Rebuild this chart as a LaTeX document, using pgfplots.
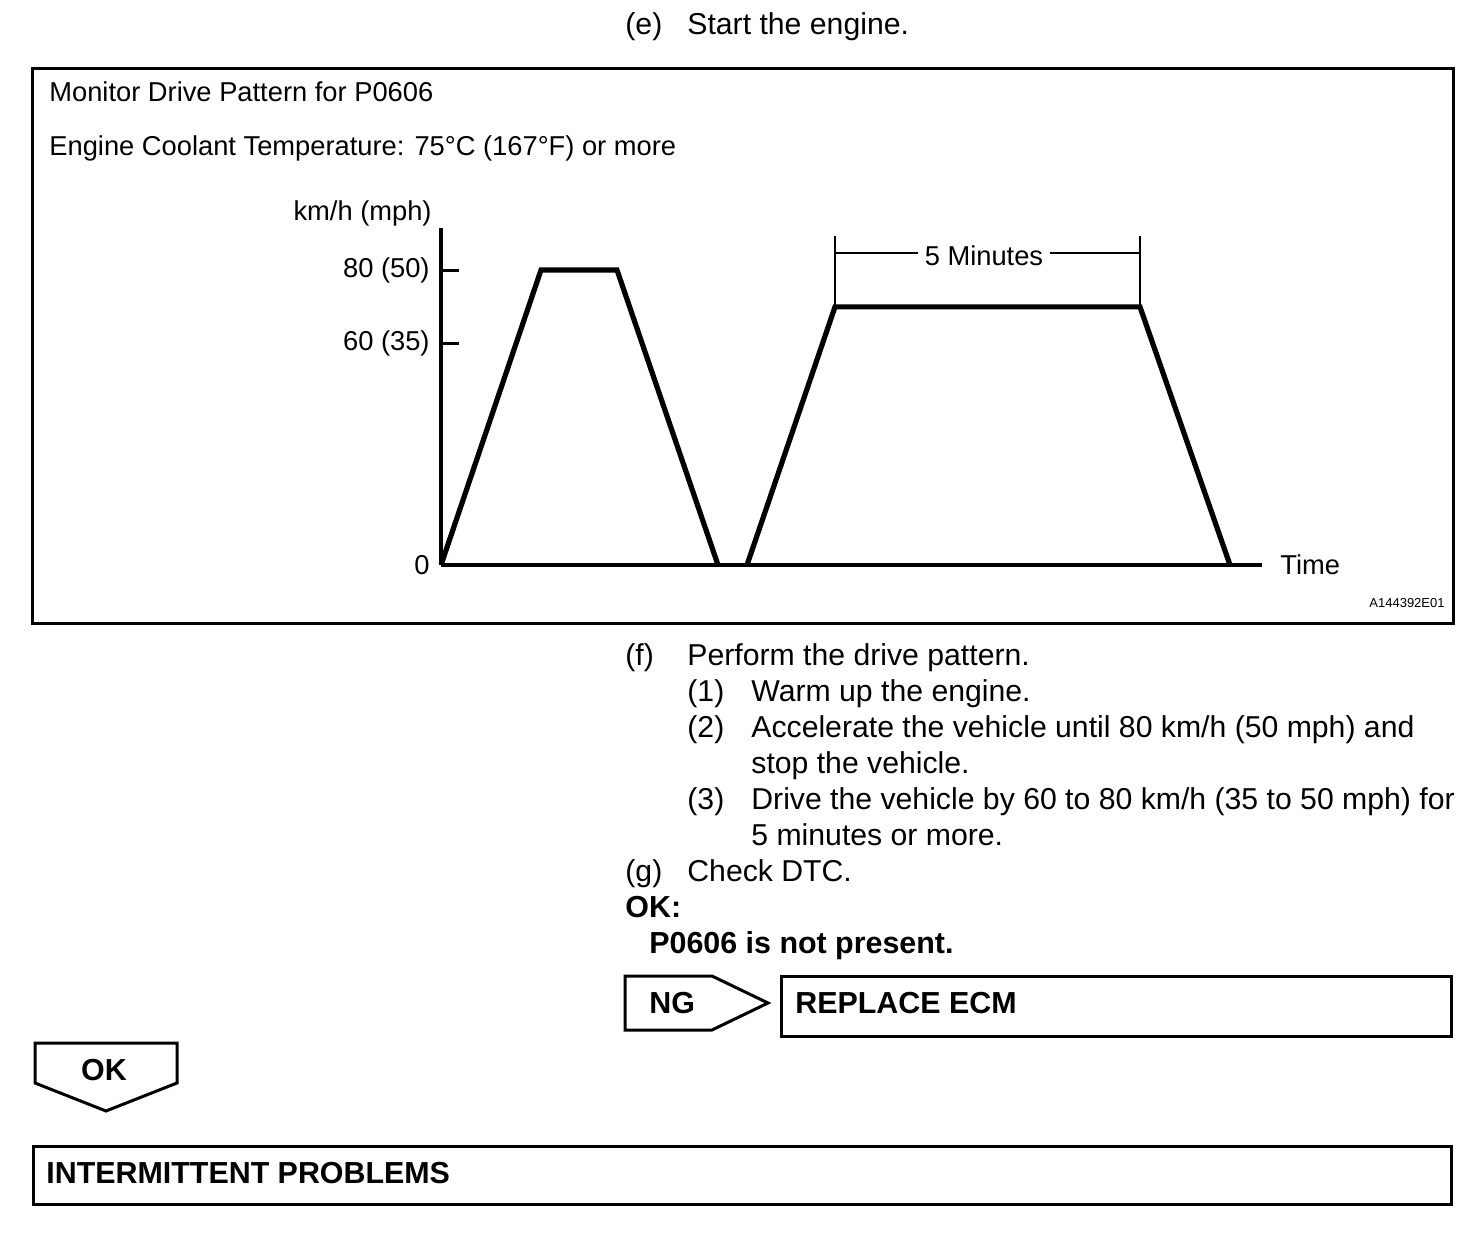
\documentclass[border=0pt]{standalone}
\usepackage{pgfplots}
\pgfplotsset{compat=1.18}
\usepackage{fontspec}
\setmainfont{Liberation Sans}
\begin{document}
\begin{tikzpicture}[x=0.5pt,y=-0.5pt,
  t/.style={anchor=base west, inner sep=0pt, font=\fontsize{15.1}{18}\selectfont},
  b/.style={anchor=base west, inner sep=0pt, font=\fontsize{15.2}{18}\selectfont\bfseries},
  d/.style={anchor=base west, inner sep=0pt, font=\fontsize{13.65}{16}\selectfont}]
\path (0,0) rectangle (1472,1240);
% top line
\node[t] at (625,35) {(e)};
\node[t] at (687,35) {Start the engine.};
% frame
\draw[line width=1.5pt] (32,69) rectangle (1453,623);
\node[d] at (49,102) {Monitor Drive Pattern for P0606};
\node[d] at (49,156) {Engine Coolant Temperature: 75°C (167°F) or more};
\node[anchor=base east, inner sep=0pt, font=\fontsize{6.5}{8}\selectfont] at (1445,608) {A144392E01};

\begin{axis}[
  at={(220.5pt,-282.5pt)}, anchor=south west,
  scale only axis, width=410.5pt, height=168.5pt,
  xmin=0, xmax=821, ymin=0, ymax=91.4,
  axis lines=left, axis line style={-, line width=1.6pt, black},
  xtick=\empty, ytick={0,60,80}, yticklabels={0,{60 (35)},{80 (50)}},
  tick align=inside, major tick length=9pt,
  tick style={line width=1.5pt, black},
  /pgf/number format/assume math mode=true,
  yticklabel style={font=\fontsize{13.65}{16}\selectfont, inner sep=0pt, anchor=east, xshift=-5.5pt},
  clip=false,
]
\addplot[black, line width=2.6pt, line join=miter] coordinates {(0,0) (100,80) (176,80) (277,0)};
\addplot[black, line width=2.6pt, line join=miter] coordinates {(306,0) (394,70) (699,70) (789,0)};
\draw[line width=1.4pt] (axis cs:394,70) -- (axis cs:394,89.2);
\draw[line width=1.4pt] (axis cs:699,70) -- (axis cs:699,89.2);
\draw[line width=1.4pt] (axis cs:394,84.6) -- (axis cs:477,84.6);
\draw[line width=1.4pt] (axis cs:609,84.6) -- (axis cs:699,84.6);
\node[font=\fontsize{13.65}{16}\selectfont, inner sep=0pt] at (axis cs:543,84.6) [yshift=-1.5pt] {5 Minutes};
\node[font=\fontsize{13.65}{16}\selectfont, inner sep=0pt, anchor=west] at (rel axis cs:1,0) [xshift=9pt] {Time};
\node[font=\fontsize{13.65}{16}\selectfont, inner sep=0pt, anchor=east] at (rel axis cs:0,1) [xshift=-4.5pt, yshift=7.5pt] {km/h (mph)};
\end{axis}

% lower text
\node[t] at (625,665) {(f)};
\node[t] at (687,665) {Perform the drive pattern.};
\node[t] at (687,701) {(1)};
\node[t] at (751,701) {Warm up the engine.};
\node[t] at (687,737) {(2)};
\node[t] at (751,737) {Accelerate the vehicle until 80 km/h (50 mph) and};
\node[t] at (751,773) {stop the vehicle.};
\node[t] at (687,809) {(3)};
\node[t] at (751,809) {Drive the vehicle by 60 to 80 km/h (35 to 50 mph) for};
\node[t] at (751,845) {5 minutes or more.};
\node[t] at (625,881) {(g)};
\node[t] at (687,881) {Check DTC.};
\node[b] at (625,917) {OK:};
\node[b] at (649,953) {P0606 is not present.};
% NG
\draw[line width=1.5pt, line join=miter] (625,976) -- (712,976) -- (768,1003) -- (712,1030) -- (625,1030) -- cycle;
\node[b] at (649,1013) {NG};
\draw[line width=1.5pt] (781,976) rectangle (1451,1036);
\node[b] at (795,1013) {REPLACE ECM};
% OK
\draw[line width=1.5pt, line join=miter] (35,1043) -- (177,1043) -- (177,1083) -- (106,1111) -- (35,1083) -- cycle;
\node[b, anchor=base] at (104,1080) {OK};
% intermittent
\draw[line width=1.5pt] (33,1146) rectangle (1451,1204);
\node[b] at (46,1183) {INTERMITTENT PROBLEMS};
\end{tikzpicture}
\end{document}
